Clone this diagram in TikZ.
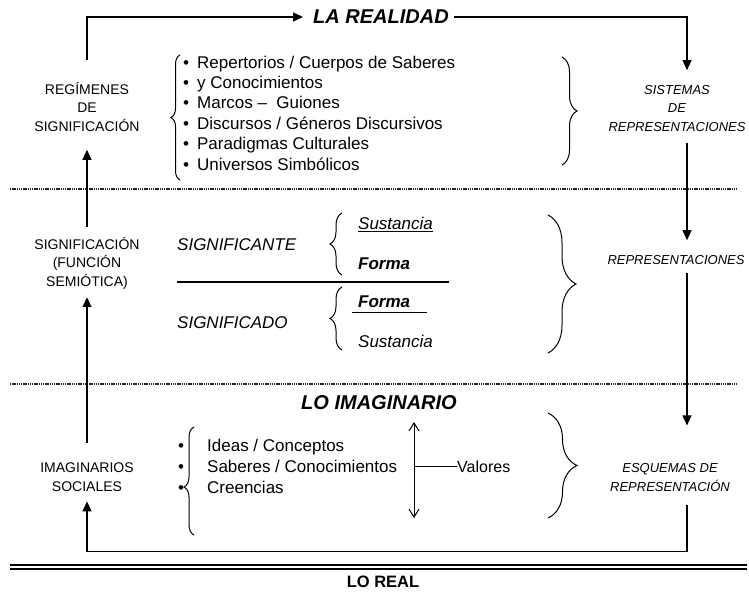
\documentclass[tikz,border=0pt]{standalone}
\usepackage{fontspec}
\setmainfont{Liberation Sans}
\usetikzlibrary{arrows.meta,decorations.pathreplacing,calc}
\begin{document}
\begin{tikzpicture}[x=1pt,y=-1pt,
  lab/.style={font=\fontsize{14}{18.5}\selectfont, align=center, inner sep=0pt},
  itlab/.style={font=\fontsize{13}{18.5}\selectfont\itshape, align=center, inner sep=0pt},
  head/.style={font=\fontsize{20}{24}\selectfont\bfseries\itshape, inner sep=0pt},
  body/.style={font=\fontsize{17}{20.4}\selectfont, inner sep=0pt},
  bodyit/.style={font=\fontsize{17}{20.4}\selectfont\itshape, inner sep=0pt},
  conn/.style={line width=1.1pt},
  tip/.style={conn, -{Triangle[length=10pt,width=9pt]}},
  dbltip/.style={line width=1pt, {Straight Barb[length=8pt,width=10pt]}-{Straight Barb[length=8pt,width=10pt]}},
  dotline/.style={line width=1.2pt, dash pattern=on 1.4pt off 0.8pt, black!85},
  mybrace/.style={decorate, decoration={brace, amplitude=#1}, line width=1pt},
  mybraceasp/.style 2 args={decorate, decoration={brace, amplitude=#1, aspect=#2}, line width=1pt}
]
\useasboundingbox (0,0) rectangle (749,593);

% x of the right-hand vertical connectors
\coordinate (rx) at (687,0);

% left column labels
\node[lab] (reg) at (87,107) {REGÍMENES\\DE\\SIGNIFICACIÓN};
\node[lab] (sig) at (87,263) {SIGNIFICACIÓN\\(FUNCIÓN\\SEMIÓTICA)};
\node[lab] (ima) at (87,477) {IMAGINARIOS\\SOCIALES};

% right column labels
\node[itlab] (sis) at (677,108.5) {SISTEMAS\\DE\\REPRESENTACIONES};
\node[itlab] (rep) at (676,260) {REPRESENTACIONES};
\node[itlab] (esq) at (670,477.5) {ESQUEMAS DE\\REPRESENTACIÓN};

% headings
\node[head] (realidad) at (381,17) {LA REALIDAD};
\node[head] (imag) at (379,403) {LO IMAGINARIO};
\node[font=\fontsize{16.5}{20}\selectfont\bfseries, inner sep=0pt] (loreal) at (383,582) {LO REAL};

% separators
\draw[dotline] (10,189) -- (738,189);
\draw[dotline] (10,384) -- (738,384);
\draw[line width=1.2pt] (10,565) -- (747,565);
\draw[line width=1.2pt] (10,569) -- (747,569);

% top list
\node[body, anchor=north west] (list1) at (183,53.7) {%
  \begin{tabular}{@{}l@{\hspace{8pt}}l@{}}
  \textbullet & Repertorios / Cuerpos de Saberes\\
  \textbullet & y Conocimientos\\
  \textbullet & Marcos –\ \ Guiones\\
  \textbullet & Discursos / Géneros Discursivos\\
  \textbullet & Paradigmas Culturales\\
  \textbullet & Universos Simbólicos
  \end{tabular}};
\draw[mybrace=9pt] (180,180) -- (180,55);
\draw[mybrace=15pt] (562,57) -- (562,165);

% middle section
\node[bodyit, anchor=base west] (sgte) at (177,251) {SIGNIFICANTE};
\node[bodyit, anchor=base west] (sdo) at (177,328) {SIGNIFICADO};
\coordinate (hl1) at (177,282);
\coordinate (hl2) at (449,282);
\draw[conn] (hl1) -- (hl2);
\node[bodyit, anchor=base west] (sus1) at (358,230) {\underline{Sustancia}};
\node[bodyit, font=\fontsize{17}{20.4}\selectfont\bfseries\itshape, anchor=base west] (for1) at (358,270) {Forma};
\node[bodyit, font=\fontsize{17}{20.4}\selectfont\bfseries\itshape, anchor=base west] (for2) at (358,308) {Forma};
\draw[line width=1pt] ($(for2.base west)+(-6,5)$) -- ($(for2.base west)+(69,5)$);
\node[bodyit, anchor=base west] (sus2) at (358,347) {Sustancia};
\draw[mybrace=12pt] (342,275) -- (342,213);
\draw[mybrace=12pt] (342,350) -- (342,287);
\draw[mybrace=28pt] (548,215) -- (548,353);

% bottom section
\node[body, font=\fontsize{17}{21}\selectfont, anchor=north west] (bul) at (178,436.3) {%
  \begin{tabular}{@{}l@{}}\textbullet\\ \textbullet\\ \textbullet\end{tabular}};
\node[body, font=\fontsize{17}{21}\selectfont, anchor=north west] (list2) at (207,436.3) {%
  \begin{tabular}{@{}l@{}}Ideas / Conceptos\\ Saberes / Conocimientos\\ Creencias\end{tabular}};
\draw[mybraceasp={10pt}{0.444}] (194,535) -- (194,427);
\coordinate (vt) at (414,422);
\coordinate (vb) at (414,518);
\draw[dbltip] (vt) -- (vb);
\node[body, font=\fontsize{16}{20}\selectfont, anchor=base west] (val) at (457,472) {Valores};
\draw[line width=1pt] (vt |- val.west) -- (val.west);
\draw[mybrace=29pt] (548,413) -- (548,518);

% connectors
\draw[tip] ($(reg.north)+(0,-22)$) |- ($(realidad.west)+(-10,0)$);
\draw[tip] ($(realidad.east)+(5,0)$) -| ($(sis.north -| rx)+(0,-15)$);
\draw[tip] ($(sis.south -| rx)+(0,11)$) -- ($(rep.north -| rx)+(0,-15)$);
\draw[tip] ($(rep.south -| rx)+(0,8)$) -- ($(esq.north -| rx)+(0,-38)$);
\draw[tip] ($(esq.south -| rx)+(0,13)$) -- ($(esq.south -| rx)+(0,60)$) -| ($(ima.south)+(0,10)$);
\draw[tip] ($(ima.north)+(0,-20)$) -- ($(sig.south)+(0,8)$);
\draw[tip] ($(sig.north)+(0,-10)$) -- ($(reg.south)+(0,18)$);
\end{tikzpicture}
\end{document}
